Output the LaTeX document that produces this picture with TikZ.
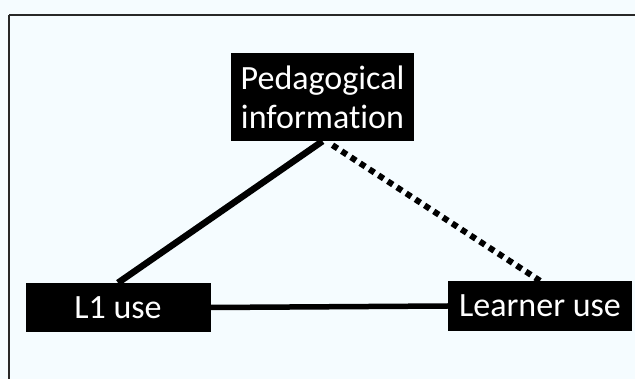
\documentclass[tikz,border=0pt]{standalone}
\usepackage{fontspec}
\setmainfont{Carlito}[Ligatures=NoCommon]
\definecolor{paleblue}{RGB}{245, 252, 255}
\definecolor{framegray}{RGB}{40, 40, 40}
\usepackage{tikz}
\usetikzlibrary{positioning, calc}

\begin{document}
\begin{tikzpicture}[
  x=1pt, y=-1pt,
  bbox/.style={fill=black, text=white, inner sep=0pt, align=center, font=\fontsize{34}{39}\selectfont},
  solidlink/.style={line width=6.5pt},
  dotlink/.style={line width=6pt, dash pattern=on 6pt off 5pt}
]
  % page and frame
  \useasboundingbox[fill=paleblue] (0,0) rectangle (635,379);
  \draw[framegray, line width=2pt] (9,15) -- (9,385) (9,15) -- (645,15);

  \node[bbox, minimum width=183pt, minimum height=88pt] (ped) at (322.5,97) {Pedagogical\\information};
  \node[bbox, minimum width=185pt, minimum height=49pt] (lone) at (118,307.5) {L1 use};
  \node[bbox, minimum width=184pt, minimum height=50pt] (learner) at (540,306) {Learner use};

  \draw[solidlink] (ped.south) -- (lone.north);
  \draw[dotlink] ([xshift=10pt, yshift=-4pt]ped.south) -- (learner.north);
  \draw[line width=5.5pt] (lone.east) -- (learner.west);
\end{tikzpicture}
\end{document}
